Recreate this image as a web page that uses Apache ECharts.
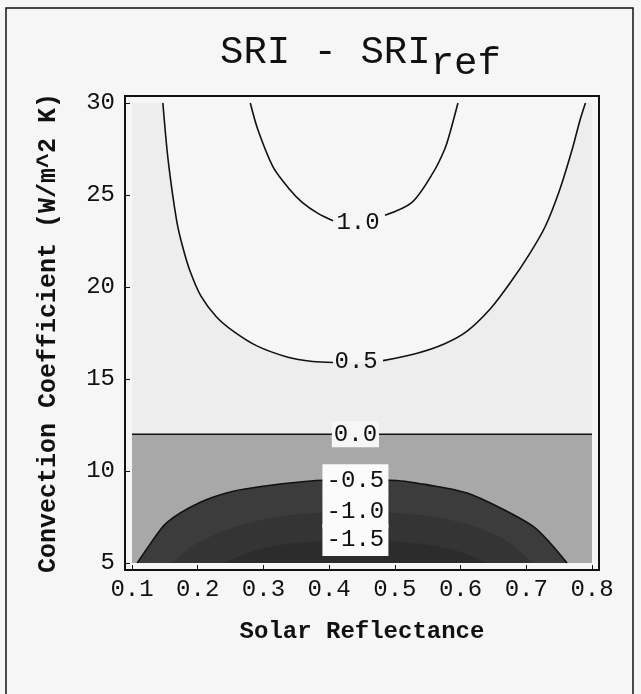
<!DOCTYPE html>
<html>
<head>
<meta charset="utf-8">
<title>SRI - SRIref</title>
<script src="https://cdn.jsdelivr.net/npm/echarts@6/dist/echarts.min.js"></script>
<style>
html, body { margin: 0; padding: 0; background: #f6f6f6; }
#chart { width: 641px; height: 694px; }
</style>
</head>
<body>
<div id="chart"></div>
<script>
// contour plot of SRI - SRIref
// x = solar reflectance, y = convection coefficient (W/m^2 K)
var xRange = [0.1, 0.8];
var yRange = [5, 30];

// +1.0 contour (split where the label sits)
var plusOneLeft = [[0.280, 30], [0.292, 28.5], [0.315, 26.5], [0.340, 25.3], [0.359, 24.6], [0.383, 24.0], [0.406, 23.6]];
var plusOneRight = [[0.485, 23.9], [0.526, 24.6], [0.558, 26.2], [0.576, 27.5], [0.584, 28.4], [0.596, 30]];
// +0.5 contour
var plusHalfLeft = [[0.147, 30], [0.155, 26.9], [0.168, 23.6], [0.177, 22.2], [0.188, 20.9], [0.205, 19.5], [0.228, 18.4], [0.254, 17.6], [0.290, 16.8], [0.336, 16.2], [0.375, 15.95], [0.406, 15.9]];
var plusHalfRight = [[0.482, 16.0], [0.534, 16.4], [0.575, 16.9], [0.610, 17.6], [0.645, 18.8], [0.675, 20.2], [0.705, 21.8], [0.729, 23.3], [0.751, 25.3], [0.770, 27.5], [0.782, 29.1], [0.790, 30]];
// 0.0 contour
var zeroLeft = [[0.1, 12], [0.406, 12]];
var zeroRight = [[0.475, 12], [0.8, 12]];
// negative contours (arches at the bottom)
var minusHalfArch = [[0.108, 5], [0.127, 6.0], [0.153, 7.2], [0.204, 8.3], [0.254, 8.9], [0.305, 9.2], [0.356, 9.4], [0.391, 9.5], [0.44, 9.5], [0.493, 9.5], [0.558, 9.2], [0.610, 8.8], [0.660, 8.0], [0.710, 7.0], [0.736, 6.1], [0.762, 5]];
var minusOneArch = [[0.16, 5], [0.20, 6.1], [0.26, 7.0], [0.32, 7.5], [0.39, 7.75], [0.44, 7.8], [0.49, 7.75], [0.56, 7.5], [0.62, 7.0], [0.67, 6.2], [0.71, 5]];
var minusOneHalfArch = [[0.24, 5], [0.28, 5.6], [0.34, 6.05], [0.44, 6.25], [0.54, 6.05], [0.60, 5.6], [0.64, 5]];

// contour labels: text, x, y
var labelNames = ['1.0', '0.5', '0.0', '-0.5', '-1.0', '-1.5'];
var labelX = [0.444, 0.441, 0.44, 0.44, 0.44, 0.44];
var labelY = [23.5, 15.95, 12, 9.5, 7.8, 6.25];

var mono = '"Courier New", Courier, "Liberation Mono", monospace';
var ink = '#111';
var paper = '#f6f6f6';

var chart = echarts.init(document.getElementById('chart'));

// plot area in pixels (data range), frame is drawn a bit outside it
var grid = { left: 132, top: 103, right: 49, bottom: 131 };
var pad = 7;
var plotW = 641 - grid.left - grid.right;
var plotH = 694 - grid.top - grid.bottom;

function fill(data, color, origin, z) {
	return {
		type: 'line', data: data, symbol: 'none', smooth: 0.3, silent: true, z: z,
		lineStyle: { opacity: 0 },
		areaStyle: { color: color, opacity: 1, origin: origin }
	};
}
function contour(data) {
	return {
		type: 'line', data: data, symbol: 'none', smooth: 0.3, silent: true, z: 4,
		lineStyle: { color: ink, width: 1.6 }
	};
}

var labelData = labelNames.map(function (n, i) {
	var neg = n.charAt(0) === '-';
	return {
		name: n,
		value: [labelX[i], labelY[i]],
		label: {
			backgroundColor: neg ? '#fbfbfb' : (n === '0.0' ? paper : 'transparent'),
			padding: neg ? [3, 4] : [0, 2],
			width: neg ? 58 : null
		}
	};
});

var option = {
	backgroundColor: paper,
	animation: false,
	title: {
		text: '{a|SRI - SRI}{b|ref}',
		left: 215,
		top: 28,
		textStyle: {
			rich: {
				a: { fontFamily: mono, fontSize: 39, fontWeight: 'normal', color: ink, lineHeight: 44, verticalAlign: 'top' },
				b: { fontFamily: mono, fontSize: 39, fontWeight: 'normal', color: ink, lineHeight: 50, verticalAlign: 'bottom' }
			}
		}
	},
	grid: grid,
	xAxis: {
		type: 'value', min: xRange[0], max: xRange[1], interval: 0.1, offset: pad,
		axisLine: { show: false },
		axisTick: { show: true, inside: true, length: 5, lineStyle: { color: ink } },
		splitLine: { show: false },
		axisLabel: { margin: 8, fontFamily: mono, fontSize: 24, color: ink, formatter: function (v) { return v.toFixed(1); } },
		name: 'Solar Reflectance', nameLocation: 'middle', nameGap: 50,
		nameTextStyle: { fontFamily: mono, fontWeight: 'bold', fontSize: 24, color: ink }
	},
	yAxis: {
		type: 'value', min: yRange[0], max: yRange[1], interval: 5, offset: pad,
		axisLine: { show: false },
		axisTick: { show: true, inside: true, length: 5, lineStyle: { color: ink } },
		splitLine: { show: false },
		axisLabel: { margin: 10, fontFamily: mono, fontSize: 24, color: ink },
		name: 'Convection Coefficient (W/m^2 K)', nameLocation: 'middle', nameGap: 64,
		nameTextStyle: { fontFamily: mono, fontWeight: 'bold', fontSize: 25, color: ink }
	},
	graphic: [
		// outer border of the figure (cut off at the bottom)
		{ type: 'rect', shape: { x: 6, y: 8, width: 627, height: 700 }, style: { fill: null, stroke: ink, lineWidth: 1.5 }, silent: true },
		// plot frame
		{ type: 'rect', shape: { x: grid.left - pad, y: grid.top - pad, width: plotW + 2 * pad, height: plotH + 2 * pad }, style: { fill: null, stroke: ink, lineWidth: 2 }, silent: true, z: 10 }
	],
	series: [
		// shading between contour levels
		fill([[xRange[0], yRange[1]], [xRange[1], yRange[1]]], '#ededed', 'start', 1),
		fill(zeroLeft.concat(zeroRight), '#a8a8a8', 'start', 2),
		fill(plusHalfLeft.concat(plusHalfRight), paper, 'end', 2),
		fill(minusHalfArch, '#3c3c3c', 'start', 3),
		fill(minusOneArch, '#343434', 'start', 3),
		fill(minusOneHalfArch, '#2c2c2c', 'start', 3),
		// contour lines
		contour(plusOneLeft), contour(plusOneRight),
		contour(plusHalfLeft), contour(plusHalfRight),
		contour(zeroLeft), contour(zeroRight),
		contour(minusHalfArch),
		{
			type: 'scatter', data: labelData, symbolSize: 0, silent: true, z: 6,
			itemStyle: { opacity: 1 },
			label: {
				show: true, position: 'inside', formatter: '{b}', opacity: 1,
				fontFamily: mono, fontSize: 24, color: ink, lineHeight: 26, align: 'center'
			}
		}
	]
};
chart.setOption(option);
</script>
</body>
</html>
